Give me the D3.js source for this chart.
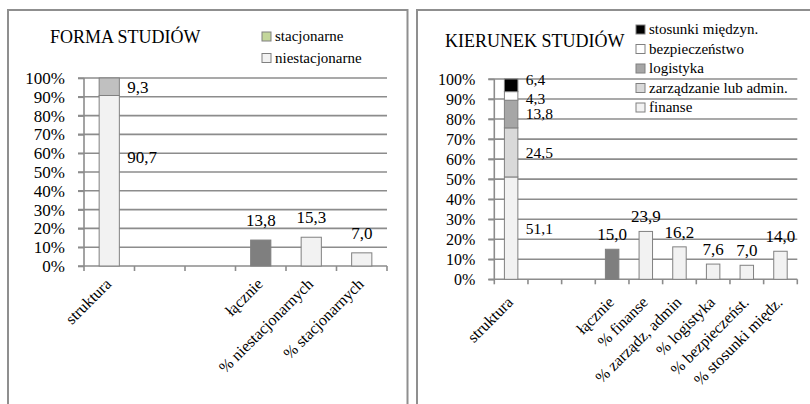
<!DOCTYPE html>
<html>
<head>
<meta charset="utf-8">
<script src="https://cdn.jsdelivr.net/npm/d3@7"></script>
<style>
  html, body { margin: 0; padding: 0; background: #fff; }
  svg, svg text { font-family: "Liberation Serif", "Times New Roman", serif; }
</style>
</head>
<body>
<svg id="chart" width="810" height="404" font-family="Liberation Serif, serif"></svg>
<script>
// ---------- DATA ----------
const yTickValues = [0, 10, 20, 30, 40, 50, 60, 70, 80, 90, 100];

// Left panel: FORMA STUDIÓW
const leftTitle = "FORMA STUDIÓW";
const leftCategories = ["struktura", "", "", "łącznie", "% niestacjonarnych", "% stacjonarnych"];
const leftStackSeries = ["niestacjonarne", "stacjonarne"];      // bottom -> top
const leftStackValues = [90.7, 9.3];
const leftLegend = ["stacjonarne", "niestacjonarne"];           // top -> bottom
const leftBarValues = [null, null, null, 13.8, 15.3, 7.0];

// Right panel: KIERUNEK STUDIÓW
const rightTitle = "KIERUNEK STUDIÓW";
const rightCategories = ["struktura", "", "", "łącznie", "% finanse", "% zarządz, admin", "% logistyka", "% bezpieczeńst.", "% stosunki międz."];
const rightStackSeries = ["finanse", "zarządzanie lub admin.", "logistyka", "bezpieczeństwo", "stosunki międzyn."]; // bottom -> top
const rightStackValues = [51.1, 24.5, 13.8, 4.3, 6.4];
const rightLegend = ["stosunki międzyn.", "bezpieczeństwo", "logistyka", "zarządzanie lub admin.", "finanse"];
const rightBarValues = [null, null, null, 15.0, 23.9, 16.2, 7.6, 7.0, 14.0];

// ---------- STYLES ----------
const FONT = "Liberation Serif, Times New Roman, serif";
const gridColor = "#8c8c8c";
const barStroke = "#808080";
const stackFill = {
  "niestacjonarne": "#f2f2f2",
  "stacjonarne": "#c0c0c0",
  "finanse": "#f2f2f2",
  "zarządzanie lub admin.": "#d9d9d9",
  "logistyka": "#a6a6a6",
  "bezpieczeństwo": "#ffffff",
  "stosunki międzyn.": "#000000"
};
const legendFill = Object.assign({}, stackFill, { "stacjonarne": "#c3d69b" });
const totalFill = "#7f7f7f";
const pctFill = "#f2f2f2";
const fmt = v => d3.format(".1f")(v).replace(".", ",");

const svg = d3.select("#chart");

// panel frames
const frame = svg.append("g").attr("fill", "none").attr("stroke", "#8f8f8f").attr("stroke-width", 2);
frame.append("path").attr("d", "M8,420 V10 H407.5 V420");
frame.append("path").attr("d", "M417,420 V10 H830");

function drawPanel(cfg) {
  const g = svg.append("g").attr("font-family", FONT);
  const n = cfg.categories.length;
  const x = d3.scaleBand().domain(d3.range(n)).range([cfg.x0, cfg.x1]).padding(0);
  const y = d3.scaleLinear().domain([0, 100]).range([cfg.y0, cfg.y1]);
  const bw = x.bandwidth() * 0.4;
  const bx = i => x(i) + x.bandwidth() * 0.3;

  // title
  g.append("text").attr("x", cfg.titleX).attr("y", cfg.titleY)
    .attr("font-family", FONT).attr("font-size", 18).attr("fill", "#000").text(cfg.title);

  // gridlines (including left tick marks)
  g.append("g").selectAll("line").data(yTickValues.filter(d => d > 0)).join("line")
    .attr("x1", cfg.x0 - 6).attr("x2", cfg.x1)
    .attr("y1", d => y(d)).attr("y2", d => y(d))
    .attr("stroke", gridColor).attr("stroke-width", 1.6);

  // y axis
  const yAxis = d3.axisLeft(y).tickValues(yTickValues).tickFormat(d => d + "%").tickSize(6).tickPadding(13);
  const ya = g.append("g").attr("transform", `translate(${cfg.x0},0)`).call(yAxis)
    .attr("font-family", FONT).attr("font-size", cfg.tickFont);
  ya.select(".domain").attr("stroke", gridColor).attr("stroke-width", 1.6).attr("d", `M-0,${cfg.y0}V${cfg.y1}`);
  ya.selectAll(".tick line").attr("stroke", gridColor).attr("stroke-width", 1.6);
  ya.selectAll(".tick text").attr("font-size", cfg.tickFont).attr("fill", "#000")
    .attr("font-family", FONT);

  // x axis
  const xa = g.append("g").attr("transform", `translate(0,${cfg.y0})`);
  xa.append("line").attr("x1", cfg.x0 - 6).attr("x2", cfg.x1).attr("y1", 0).attr("y2", 0)
    .attr("stroke", gridColor).attr("stroke-width", 1.6);
  xa.selectAll("line.tk").data(d3.range(n + 1)).join("line").attr("class", "tk")
    .attr("x1", i => cfg.x0 + i * x.step()).attr("x2", i => cfg.x0 + i * x.step())
    .attr("y1", 0).attr("y2", 5).attr("stroke", gridColor).attr("stroke-width", 1.6);
  xa.selectAll("text").data(cfg.categories).join("text")
    .attr("transform", (d, i) => `translate(${x(i) + x.bandwidth() / 2 + 3},${cfg.labelDrop}) rotate(-45)`)
    .attr("text-anchor", "end").attr("font-family", FONT).attr("font-size", 16).attr("fill", "#000").text(d => d);

  // stacked bar in first category
  let acc = 0;
  const segs = cfg.stackSeries.map((s, k) => {
    const seg = { name: s, v: cfg.stackValues[k], lo: acc, hi: acc + cfg.stackValues[k] };
    acc += cfg.stackValues[k];
    return seg;
  });
  g.append("g").selectAll("rect").data(segs).join("rect")
    .attr("x", bx(0)).attr("width", bw)
    .attr("y", d => y(Math.min(d.hi, 100))).attr("height", d => y(d.lo) - y(Math.min(d.hi, 100)))
    .attr("fill", d => stackFill[d.name]).attr("stroke", barStroke).attr("stroke-width", 1);
  g.append("g").selectAll("text").data(segs).join("text")
    .attr("x", bx(0) + bw + 8)
    .attr("y", (d, k) => y(cfg.stackLabelAt ? cfg.stackLabelAt[k] : (d.lo + d.hi) / 2))
    .attr("dy", "0.35em").attr("font-family", FONT).attr("font-size", cfg.stackFont).attr("fill", "#000")
    .text(d => fmt(d.v));

  // single bars
  const bars = cfg.barValues.map((v, i) => ({ v, i })).filter(d => d.v != null);
  g.append("g").selectAll("rect").data(bars).join("rect")
    .attr("x", d => bx(d.i)).attr("width", bw)
    .attr("y", d => y(d.v)).attr("height", d => y(0) - y(d.v))
    .attr("fill", d => d.i === 3 ? totalFill : pctFill)
    .attr("stroke", barStroke).attr("stroke-width", 1);
  g.append("g").selectAll("text").data(bars).join("text")
    .attr("x", d => bx(d.i) + bw / 2).attr("y", d => y(d.v) - cfg.barLabelGap)
    .attr("text-anchor", "middle").attr("font-family", FONT).attr("font-size", cfg.labelFont).attr("fill", "#000")
    .text(d => fmt(d.v));

  // legend
  const lg = g.append("g");
  cfg.legend.forEach((name, k) => {
    const cy = cfg.legendY + k * cfg.legendStep;
    lg.append("rect").attr("x", cfg.legendX).attr("y", cy - 4.5).attr("width", 9).attr("height", 9)
      .attr("fill", legendFill[name]).attr("stroke", "#808080").attr("stroke-width", 1);
    lg.append("text").attr("x", cfg.legendX + 13).attr("y", cy).attr("dy", "0.3em")
      .attr("font-family", FONT).attr("font-size", 15).attr("fill", "#000").text(name);
  });
}

drawPanel({
  title: leftTitle, titleX: 50, titleY: 43,
  categories: leftCategories, stackSeries: leftStackSeries, stackValues: leftStackValues,
  barValues: leftBarValues, legend: leftLegend,
  x0: 84, x1: 387, y0: 266, y1: 78,
  tickFont: 17, labelFont: 17, stackFont: 17, barLabelGap: 14, labelDrop: 19,
  stackLabelAt: [58, 95.2],
  legendX: 262, legendY: 36.5, legendStep: 21.5
});

drawPanel({
  title: rightTitle, titleX: 445, titleY: 47,
  categories: rightCategories, stackSeries: rightStackSeries, stackValues: rightStackValues,
  barValues: rightBarValues, legend: rightLegend,
  x0: 494.3, x1: 797.3, y0: 279.3, y1: 79,
  tickFont: 16, labelFont: 17, stackFont: 15.5, barLabelGap: 9, labelDrop: 24,
  stackLabelAt: [25.55, 63.35, 82.5, 90.3, 99.6],
  legendX: 636, legendY: 29.5, legendStep: 19.5
});
</script>
</body>
</html>
